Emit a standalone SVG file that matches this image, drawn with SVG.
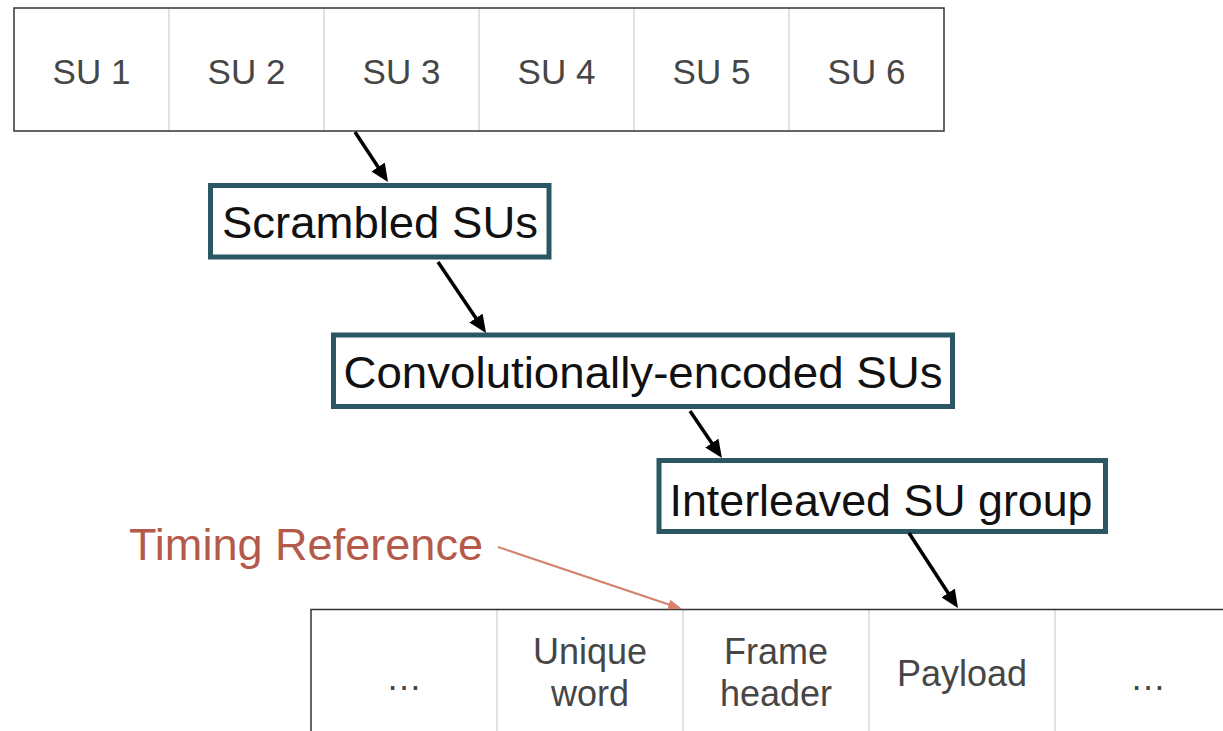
<svg xmlns="http://www.w3.org/2000/svg" width="1223" height="731" viewBox="0 0 1223 731">
<style>
.cell{font-family:"Liberation Sans",Arial,sans-serif;font-size:35px;fill:#464646;text-anchor:middle}
.cell2{font-family:"Liberation Sans",Arial,sans-serif;font-size:36px;fill:#464646;text-anchor:middle}
.div{stroke:#d8d8d8;stroke-width:1.5}
.border{fill:none;stroke:#333;stroke-width:1.5}
.box{fill:#fff;stroke:#2b5664;stroke-width:5}
.lbl{font-family:"Liberation Sans",Arial,sans-serif;font-size:45px;fill:#111;text-anchor:middle}
.arr{stroke:#000;stroke-width:3.5;fill:none}
.tarr{stroke:#d4826a;stroke-width:2;fill:none}
</style>
<defs>
<marker id="ah" markerUnits="userSpaceOnUse" markerWidth="18" markerHeight="16" refX="14" refY="8" orient="auto"><path d="M0,0 L18,8 L0,16 z" fill="#000"/></marker>
<marker id="ahT" markerUnits="userSpaceOnUse" markerWidth="14" markerHeight="10" refX="11" refY="5" orient="auto"><path d="M0,0 L14,5 L0,10 z" fill="#d4826a"/></marker>
</defs>
<rect width="1223" height="731" fill="#fff"/>
<g id="su-table">
<line class="div" x1="169" y1="8" x2="169" y2="131"/>
<line class="div" x1="324" y1="8" x2="324" y2="131"/>
<line class="div" x1="479" y1="8" x2="479" y2="131"/>
<line class="div" x1="634" y1="8" x2="634" y2="131"/>
<line class="div" x1="789" y1="8" x2="789" y2="131"/>
<rect class="border" x="14" y="8" width="930" height="123"/>
<text class="cell" x="91.5" y="84">SU 1</text>
<text class="cell" x="246.5" y="84">SU 2</text>
<text class="cell" x="401.5" y="84">SU 3</text>
<text class="cell" x="556.5" y="84">SU 4</text>
<text class="cell" x="711.5" y="84">SU 5</text>
<text class="cell" x="866.5" y="84">SU 6</text>
</g>
<g id="scrambled">
<rect class="box" x="210.5" y="185.5" width="338.5" height="71.5"/>
<text class="lbl" x="380" y="238" textLength="316" lengthAdjust="spacingAndGlyphs">Scrambled SUs</text>
</g>
<g id="convolutional">
<rect class="box" x="333.5" y="335" width="619" height="71.5"/>
<text class="lbl" x="643" y="388" textLength="599" lengthAdjust="spacingAndGlyphs">Convolutionally-encoded SUs</text>
</g>
<g id="interleaved">
<rect class="box" x="659" y="460.5" width="446.5" height="71"/>
<text class="lbl" x="881" y="516" textLength="423" lengthAdjust="spacingAndGlyphs">Interleaved SU group</text>
</g>
<g id="timing-reference">
<text x="306" y="560" font-family="'Liberation Sans',Arial,sans-serif" font-size="45" fill="#b45a4b" text-anchor="middle" textLength="354" lengthAdjust="spacingAndGlyphs">Timing Reference</text>
</g>
<g id="frame-table">
<line class="div" x1="497" y1="609" x2="497" y2="731"/>
<line class="div" x1="683" y1="609" x2="683" y2="731"/>
<line class="div" x1="869" y1="609" x2="869" y2="731"/>
<line class="div" x1="1055" y1="609" x2="1055" y2="731"/>
<path class="border" d="M311,731 L311,609.5 L1223,609.5"/>
<text class="cell2" x="404" y="690">…</text>
<text class="cell2" x="590" y="664">Unique</text>
<text class="cell2" x="590" y="706">word</text>
<text class="cell2" x="776" y="664">Frame</text>
<text class="cell2" x="776" y="706">header</text>
<text class="cell2" x="962" y="686">Payload</text>
<text class="cell2" x="1148" y="690">…</text>
</g>
<g id="connectors">
<path class="arr" d="M355,132 L385.8,178.7" marker-end="url(#ah)"/>
<path class="arr" d="M438,262 L483.8,329.7" marker-end="url(#ah)"/>
<path class="arr" d="M690,411 L719.7,454.7" marker-end="url(#ah)"/>
<path class="arr" d="M909,533 L955.8,604.7" marker-end="url(#ah)"/>
<path class="tarr" d="M498,547 L679.2,608" marker-end="url(#ahT)"/>
</g>
</svg>
